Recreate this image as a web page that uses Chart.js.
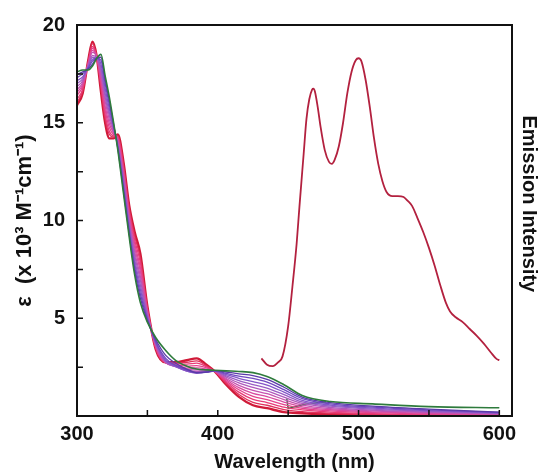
<!DOCTYPE html>
<html>
<head>
<meta charset="utf-8">
<script src="https://cdn.jsdelivr.net/npm/chart.js@4/dist/chart.umd.min.js"></script>
<style>
  html, body { margin: 0; padding: 0; background: #fff; }
  #wrap { width: 541px; height: 474px; position: relative; }
</style>
</head>
<body>
<div id="wrap"><canvas id="chart"></canvas></div>
<script>
// absorption titration spectra, wavelength grid (nm)
const absWl = [300, 304, 308, 311, 314, 317, 320, 323, 326, 329, 333, 337, 341, 345, 350, 356,
               363, 370, 378, 385, 392, 398, 406, 415, 425, 435, 447, 460, 480, 510, 550, 600];

// first spectrum (green) ... last spectrum (red), epsilon x 10^3
const abs01 = [17.6, 17.7, 17.7, 17.9, 18.3, 18.5, 17.4, 16.3, 15.0, 13.6, 11.4, 9.2, 7.2, 5.8, 4.8, 4.0,
               3.35, 2.85, 2.55, 2.4, 2.36, 2.34, 2.31, 2.28, 2.22, 2.02, 1.6, 1.05, 0.74, 0.62, 0.48, 0.42];
const abs02 = [17.45, 17.6, 17.75, 18.0, 18.3, 18.35, 17.2, 16.1, 14.93, 13.67, 11.55, 9.35, 7.4, 6.03, 4.87, 3.9,
               3.1, 2.7, 2.4, 2.22, 2.25, 2.32, 2.25, 2.16, 2.07, 1.87, 1.47, 0.97, 0.68, 0.5, 0.35, 0.2];
const abs03 = [17.3, 17.5, 17.8, 18.15, 18.3, 18.2, 17.0, 15.9, 14.85, 13.75, 11.7, 9.5, 7.6, 6.25, 4.95, 3.8,
               2.95, 2.6, 2.35, 2.2, 2.24, 2.31, 2.18, 2.04, 1.92, 1.73, 1.35, 0.89, 0.62, 0.45, 0.31, 0.18];
const abs04 = [17.15, 17.35, 17.83, 18.25, 18.3, 18.0, 16.75, 15.7, 14.78, 13.82, 11.85, 9.65, 7.8, 6.48, 5.02, 3.75,
               2.85, 2.55, 2.3, 2.2, 2.24, 2.3, 2.12, 1.93, 1.76, 1.58, 1.22, 0.8, 0.56, 0.4, 0.27, 0.16];
const abs05 = [17.0, 17.25, 17.88, 18.35, 18.32, 17.8, 16.5, 15.5, 14.7, 13.9, 12.0, 9.8, 8.0, 6.7, 5.1, 3.7,
               2.8, 2.52, 2.3, 2.22, 2.26, 2.3, 2.05, 1.81, 1.61, 1.43, 1.09, 0.72, 0.5, 0.35, 0.24, 0.14];
const abs06 = [16.85, 17.15, 17.93, 18.45, 18.33, 17.65, 16.3, 15.35, 14.63, 13.97, 12.13, 9.93, 8.2, 6.95, 5.17, 3.65,
               2.76, 2.52, 2.33, 2.28, 2.3, 2.29, 1.99, 1.69, 1.46, 1.28, 0.96, 0.64, 0.44, 0.3, 0.2, 0.12];
const abs07 = [16.7, 17.05, 17.97, 18.6, 18.35, 17.45, 16.1, 15.15, 14.55, 14.05, 12.27, 10.07, 8.4, 7.15, 5.25, 3.6,
               2.74, 2.55, 2.38, 2.36, 2.34, 2.29, 1.92, 1.57, 1.31, 1.14, 0.84, 0.56, 0.38, 0.26, 0.17, 0.1];
const abs08 = [16.55, 16.95, 18.02, 18.7, 18.36, 17.3, 15.85, 14.95, 14.48, 14.12, 12.4, 10.2, 8.6, 7.4, 5.32, 3.55,
               2.72, 2.58, 2.45, 2.46, 2.4, 2.28, 1.86, 1.45, 1.16, 0.99, 0.71, 0.47, 0.32, 0.21, 0.14, 0.08];
const abs09 = [16.4, 16.85, 18.06, 18.8, 18.37, 17.1, 15.65, 14.75, 14.4, 14.2, 12.55, 10.35, 8.8, 7.6, 5.4, 3.5,
               2.72, 2.62, 2.55, 2.58, 2.46, 2.28, 1.79, 1.34, 1.0, 0.84, 0.58, 0.39, 0.26, 0.17, 0.1, 0.06];
const abs10 = [16.2, 16.7, 18.1, 18.9, 18.38, 16.95, 15.4, 14.55, 14.33, 14.27, 12.7, 10.5, 9.0, 7.85, 5.47, 3.47,
               2.73, 2.67, 2.65, 2.7, 2.52, 2.27, 1.73, 1.22, 0.85, 0.69, 0.45, 0.31, 0.2, 0.12, 0.07, 0.04];
const abs11 = [16.05, 16.6, 18.15, 19.05, 18.39, 16.8, 15.2, 14.4, 14.27, 14.33, 12.85, 10.65, 9.2, 8.07, 5.53, 3.43,
               2.74, 2.72, 2.75, 2.82, 2.57, 2.27, 1.66, 1.1, 0.7, 0.55, 0.33, 0.22, 0.14, 0.08, 0.04, 0.02];
const abs12 = [15.9, 16.5, 18.2, 19.15, 18.4, 16.6, 15.0, 14.2, 14.2, 14.4, 13.0, 10.8, 9.4, 8.3, 5.6, 3.4,
               2.75, 2.75, 2.85, 2.95, 2.62, 2.27, 1.6, 0.98, 0.55, 0.4, 0.2, 0.14, 0.08, 0.05, 0.02, 0.0];

// small glitch on the first (green) trace near 450 nm
const glitchWl = [449, 450, 462, 477];
const glitchVal = [0.9, 0.39, 0.6, 0.73];

// emission spectrum (arbitrary units, right axis)
const emWl = [431, 435, 439, 443, 446, 450, 453, 456, 458, 461, 463, 465, 467, 468, 469, 471, 473, 476, 479,
              481, 483, 486, 489, 492, 495, 498, 500, 502, 505, 508, 511, 514, 517, 520, 524, 528, 532, 535,
              538, 542, 546, 550, 554, 558, 562, 565, 569, 574, 579, 584, 589, 594, 598, 600];
const emVal = [2.95, 2.62, 2.55, 2.75, 3.05, 4.6, 6.6, 8.8, 10.7, 13.4, 15.2, 16.2, 16.7, 16.75, 16.6, 15.8, 14.8, 13.6, 13.0,
               12.9, 13.1, 13.8, 15.0, 16.5, 17.6, 18.2, 18.3, 18.15, 17.2, 15.8, 14.2, 12.9, 12.0, 11.45, 11.25, 11.25, 11.2, 11.0,
               10.75, 10.1, 9.4, 8.6, 7.7, 6.7, 5.8, 5.35, 5.05, 4.8, 4.45, 4.1, 3.7, 3.25, 2.92, 2.85];

const absSeries = [abs01, abs02, abs03, abs04, abs05, abs06, abs07, abs08, abs09, abs10, abs11, abs12];
const absColors = ['#2e7b3c', '#5a3aa8', '#7048c0', '#8456c8', '#9a5cc4', '#b058bc', '#c652b0',
                   '#d84aa0', '#e4428c', '#e83a76', '#e0305c', '#d01a38'];

const pts = (xs, ys) => xs.map((x, i) => ({ x: x, y: ys[i] }));

const datasets = absSeries.map((s, i) => ({
  data: pts(absWl, s),
  borderColor: absColors[i],
  borderWidth: i === absSeries.length - 1 ? 2.4 : (i === 0 ? 1.6 : 1.3),
  pointRadius: 0,
  cubicInterpolationMode: 'monotone',
  yAxisID: 'y'
}));
datasets.push({
  data: pts(glitchWl, glitchVal),
  borderColor: absColors[0], borderWidth: 1.5, pointRadius: 0, yAxisID: 'y'
});
datasets.push({
  data: pts(emWl, emVal),
  borderColor: '#b3213f', borderWidth: 1.8, pointRadius: 0,
  cubicInterpolationMode: 'monotone', yAxisID: 'y2'
});

const frameTicks = {
  id: 'frameTicks',
  afterDatasetsDraw(chart) {
    const { ctx, chartArea: a, scales: { x, y } } = chart;
    ctx.save();
    ctx.strokeStyle = '#111';
    ctx.lineWidth = 1.5;
    ctx.beginPath();
    x.ticks.forEach(t => {
      if (t.value <= 300) return;
      const px = x.getPixelForValue(t.value);
      ctx.moveTo(px, a.bottom); ctx.lineTo(px, a.bottom - 6);
    });
    y.ticks.forEach(t => {
      if (t.value <= 0 || t.value >= 20) return;
      const py = y.getPixelForValue(t.value);
      ctx.moveTo(a.left, py); ctx.lineTo(a.left + 6, py);
    });
    ctx.stroke();
    ctx.lineWidth = 2;
    ctx.strokeRect(a.left, a.top, a.right - a.left, a.bottom - a.top);
    ctx.restore();
  }
};

const bold20 = { family: '"Liberation Sans", Arial, sans-serif', size: 20, weight: 'bold' };
const bold22 = { family: '"Liberation Sans", Arial, sans-serif', size: 22, weight: 'bold' };

new Chart(document.getElementById('chart'), {
  type: 'line',
  data: { datasets: datasets },
  options: {
    responsive: true,
    maintainAspectRatio: false,
    animation: false,
    layout: { padding: { top: 25, left: 0, right: 0, bottom: 0 } },
    plugins: { legend: { display: false }, tooltip: { enabled: false } },
    scales: {
      x: {
        type: 'linear', min: 300, max: 609,
        ticks: {
          stepSize: 50, includeBounds: false, color: '#111', font: bold20, padding: 6, maxRotation: 0,
          callback: v => (v % 100 === 0 ? String(v) : '')
        },
        grid: { display: false, drawTicks: false },
        border: { display: false },
        title: { display: true, text: 'Wavelength (nm)', color: '#111', font: bold20, padding: { top: 4, bottom: 0 } },
        afterFit: s => { s.height = 58; }
      },
      y: {
        position: 'left', min: 0, max: 20,
        ticks: {
          stepSize: 2.5, color: '#111', font: bold20, padding: 12,
          callback: v => (v > 0 && v % 5 === 0 ? String(v) : '')
        },
        grid: { display: false, drawTicks: false },
        border: { display: false },
        title: { display: true, text: 'ε  (x 10³ M⁻¹cm⁻¹)', color: '#111', font: bold22, padding: { top: 12, bottom: 0 } },
        afterFit: s => { s.width = 77; }
      },
      y2: {
        position: 'right', min: 0, max: 20,
        ticks: { display: false },
        grid: { display: false, drawTicks: false },
        border: { display: false },
        title: { display: true, text: 'Emission Intensity      ', color: '#111', font: bold20, padding: { top: 0, bottom: 0 } },
        afterFit: s => { s.width = 29; }
      }
    }
  },
  plugins: [frameTicks]
});
</script>
</body>
</html>
